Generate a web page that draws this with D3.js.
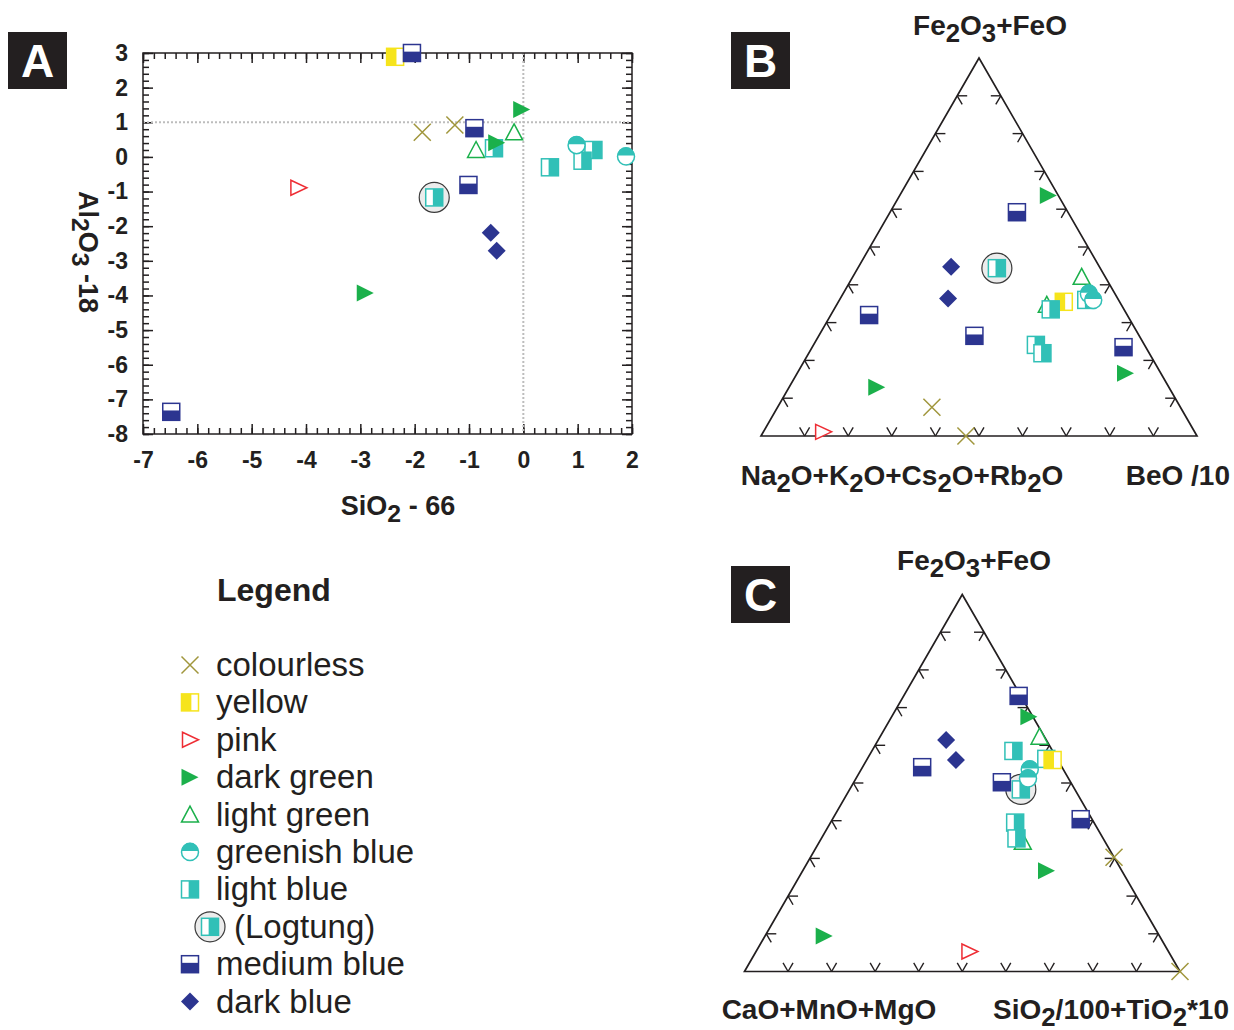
<!DOCTYPE html>
<html>
<head>
<meta charset="utf-8">
<script src="https://cdn.jsdelivr.net/npm/d3@7"></script>
<style>
  body { margin: 0; background: #fff; }
  svg { display: block; font-family: "Liberation Sans", Arial, sans-serif; }
</style>
</head>
<body>
<div id="chart"></div>
<script>
// Categorias (cor da gema)
const categories = ["colourless", "yellow", "pink", "dark green", "light green",
  "greenish blue", "light blue", "(Logtung)", "medium blue", "dark blue"];

// Eixos do painel A
const xTicksA = [-7, -6, -5, -4, -3, -2, -1, 0, 1, 2];
const yTicksA = [-8, -7, -6, -5, -4, -3, -2, -1, 0, 1, 2, 3];

// Painel A: [categoria, SiO2-66, Al2O3-18]
const pointsA = [
  ["yellow", -2.36, 2.89],
  ["medium blue", -2.05, 3.0],
  ["colourless", -1.86, 0.71],
  ["colourless", -1.26, 0.92],
  ["medium blue", -0.90, 0.83],
  ["light green", -0.87, 0.20],
  ["light blue", -0.54, 0.25],
  ["dark green", -0.49, 0.41],
  ["light green", -0.17, 0.71],
  ["dark green", -0.03, 1.37],
  ["light blue", 0.49, -0.30],
  ["light blue", 1.29, 0.20],
  ["light blue", 1.09, -0.11],
  ["greenish blue", 0.98, 0.34],
  ["greenish blue", 1.89, 0.01],
  ["pink", -4.14, -0.89],
  ["(Logtung)", -1.64, -1.17],
  ["medium blue", -1.01, -0.81],
  ["dark blue", -0.60, -2.19],
  ["dark blue", -0.49, -2.71],
  ["dark green", -2.91, -3.93],
  ["medium blue", -6.48, -7.36]
];

// Painel B: [categoria, Fe2O3+FeO, alcalis, BeO/10] (%)
const pointsB = [
  ["pink", 1.1, 85.2, 13.7],
  ["colourless", 7.6, 57.0, 35.4],
  ["colourless", 0, 53.0, 47.0],
  ["dark green", 12.9, 67.0, 20.1],
  ["dark green", 16.6, 8.1, 75.3],
  ["dark green", 63.6, 2.3, 34.1],
  ["medium blue", 59.2, 11.7, 29.1],
  ["medium blue", 32.0, 59.2, 8.8],
  ["medium blue", 26.5, 37.8, 35.7],
  ["medium blue", 23.5, 5.1, 71.4],
  ["dark blue", 44.8, 34.0, 21.2],
  ["dark blue", 36.4, 38.9, 24.7],
  ["(Logtung)", 44.4, 23.7, 31.9],
  ["light green", 42.1, 5.4, 52.5],
  ["yellow", 35.5, 12.8, 51.7],
  ["light green", 34.7, 17.1, 48.2],
  ["light blue", 33.5, 16.8, 49.7],
  ["light blue", 36.0, 7.4, 56.6],
  ["greenish blue", 37.6, 6.0, 56.4],
  ["greenish blue", 36.0, 5.8, 58.2],
  ["light blue", 24.1, 24.9, 51.0],
  ["light blue", 21.9, 24.5, 53.6]
];

// Painel C: [categoria, Fe2O3+FeO, CaO+MnO+MgO, SiO2/100+TiO2*10] (%)
const pointsC = [
  ["colourless", 0, 0, 100],
  ["colourless", 30.3, 0, 69.7],
  ["pink", 5.3, 45.7, 49.0],
  ["dark green", 9.4, 77.0, 13.6],
  ["dark green", 26.7, 17.3, 56.0],
  ["dark green", 67.6, 0.9, 31.5],
  ["medium blue", 73.1, 0.5, 26.4],
  ["light green", 62.3, 1.1, 36.6],
  ["dark blue", 61.4, 23.0, 15.6],
  ["dark blue", 56.1, 23.4, 20.5],
  ["medium blue", 54.2, 32.1, 13.7],
  ["light blue", 58.5, 9.0, 32.5],
  ["light blue", 56.4, 2.5, 41.1],
  ["yellow", 56.1, 1.2, 42.7],
  ["(Logtung)", 48.3, 12.4, 39.3],
  ["greenish blue", 53.6, 7.7, 38.7],
  ["greenish blue", 51.2, 9.3, 39.5],
  ["medium blue", 50.2, 15.8, 34.0],
  ["medium blue", 40.4, 2.6, 57.0],
  ["light green", 34.4, 18.9, 46.7],
  ["light blue", 39.5, 18.1, 42.4],
  ["light blue", 35.3, 19.9, 44.8]
];

// Marcas dos lados dos triângulos (frações)
const ternaryTicks = [0.1, 0.2, 0.3, 0.4, 0.5, 0.6, 0.7, 0.8, 0.9];

// Cores
const col = {
  ink: "#231f20",
  olive: "#a0963c",
  yellow: "#f6e41c",
  pink: "#ee2d34",
  green: "#1bb04b",
  teal: "#31c0b7",
  navy: "#2c3590",
  grey: "#bdbdbd"
};
const markerSize = 17;

const svg = d3.select("#chart").append("svg")
  .attr("width", 1234)
  .attr("height", 1030);

// Desenha um símbolo centrado em (cx, cy)
function drawMarker(parent, cat, cx, cy, s) {
  const h = s / 2;
  const m = parent.append("g").attr("transform", `translate(${cx},${cy})`);
  switch (cat) {
    case "colourless":
      m.append("path")
        .attr("d", `M${-h},${-h}L${h},${h}M${-h},${h}L${h},${-h}`)
        .attr("stroke", col.olive).attr("stroke-width", 1.5).attr("fill", "none");
      break;
    case "yellow":
      m.append("rect").attr("x", -h).attr("y", -h).attr("width", s).attr("height", s)
        .attr("fill", "#fff").attr("stroke", col.yellow).attr("stroke-width", 1.5);
      m.append("rect").attr("x", -h).attr("y", -h).attr("width", s * 0.58).attr("height", s)
        .attr("fill", col.yellow);
      break;
    case "pink":
      m.append("path").attr("d", `M${-h + 1},${-h + 1}L${h},0L${-h + 1},${h - 1}Z`)
        .attr("fill", "#fff").attr("stroke", col.pink).attr("stroke-width", 1.5);
      break;
    case "dark green":
      m.append("path").attr("d", `M${-h},${-h}L${h},0L${-h},${h}Z`)
        .attr("fill", col.green);
      break;
    case "light green":
      m.append("path").attr("d", `M0,${-h}L${h},${h - 1}L${-h},${h - 1}Z`)
        .attr("fill", "#fff").attr("stroke", col.green).attr("stroke-width", 1.5);
      break;
    case "greenish blue": {
      const r = h;
      m.append("circle").attr("r", r).attr("fill", "#fff")
        .attr("stroke", col.teal).attr("stroke-width", 1.5);
      m.append("path").attr("d", `M${-r},-1A${r},${r} 0 0 1 ${r},-1Z`).attr("fill", col.teal);
      break;
    }
    case "light blue":
      m.append("rect").attr("x", -h).attr("y", -h).attr("width", s).attr("height", s)
        .attr("fill", "#fff").attr("stroke", col.teal).attr("stroke-width", 1.5);
      m.append("rect").attr("x", -h + s * 0.42).attr("y", -h).attr("width", s * 0.58).attr("height", s)
        .attr("fill", col.teal);
      break;
    case "(Logtung)":
      m.append("circle").attr("r", 15).attr("fill", "#ececec")
        .attr("stroke", "#3a3a3a").attr("stroke-width", 1.2);
      drawMarker(m, "light blue", 0, 0, s);
      break;
    case "medium blue":
      m.append("rect").attr("x", -h).attr("y", -h).attr("width", s).attr("height", s)
        .attr("fill", "#fff").attr("stroke", col.navy).attr("stroke-width", 1.5);
      m.append("rect").attr("x", -h).attr("y", -h + s * 0.42).attr("width", s).attr("height", s * 0.58)
        .attr("fill", col.navy);
      break;
    case "dark blue":
      m.append("path").attr("d", `M0,${-h - 0.5}L${h + 0.5},0L0,${h + 0.5}L${-h - 0.5},0Z`)
        .attr("fill", col.navy);
      break;
  }
}

// Texto em negrito com subscritos marcados por "_"
function richText(parent, str, x, y, size, anchor) {
  const t = parent.append("text")
    .attr("x", x).attr("y", y)
    .attr("font-size", size).attr("font-weight", "bold")
    .attr("text-anchor", anchor).attr("fill", col.ink);
  const shift = size * 0.26;
  let down = false;
  str.split(/(_\d)/).forEach(p => {
    if (!p) return;
    if (p[0] === "_") {
      t.append("tspan").attr("dy", down ? 0 : shift).attr("font-size", size * 0.92).text(p.slice(1));
      down = true;
    } else {
      t.append("tspan").attr("dy", down ? -shift : 0).text(p);
      down = false;
    }
  });
  return t;
}

// Caixa preta com a letra do painel
function panelLabel(letter, x, y) {
  svg.append("rect").attr("x", x).attr("y", y).attr("width", 59).attr("height", 57).attr("fill", col.ink);
  svg.append("text").attr("x", x + 29.5).attr("y", y + 45)
    .attr("text-anchor", "middle").attr("font-size", 46).attr("font-weight", "bold")
    .attr("fill", "#fff").text(letter);
}

// ---------------- Painel A ----------------
const frameA = { left: 143, right: 632, top: 53, bottom: 434 };
const xA = d3.scaleLinear().domain([-7, 2]).range([frameA.left, frameA.right]);
const yA = d3.scaleLinear().domain([-8, 3]).range([frameA.bottom, frameA.top]);
const gA = svg.append("g");

const minorX = d3.range(-35, 11).map(d => d / 5);
const minorY = d3.range(-40, 16).map(d => d / 5);

function styleAxis(sel) {
  sel.select(".domain").remove();
  sel.selectAll(".tick line").attr("stroke", col.ink).attr("stroke-width", 1.5);
  sel.selectAll(".tick text")
    .attr("fill", col.ink).attr("font-size", 23).attr("font-weight", "bold")
    .attr("font-family", "Liberation Sans, Arial, sans-serif");
}

// Marcas menores (nos quatro lados, para dentro)
gA.append("g").attr("transform", `translate(0,${frameA.bottom})`)
  .call(d3.axisBottom(xA).tickValues(minorX).tickSize(-6).tickFormat("")).call(styleAxis);
gA.append("g").attr("transform", `translate(0,${frameA.top})`)
  .call(d3.axisTop(xA).tickValues(minorX).tickSize(-6).tickFormat("")).call(styleAxis);
gA.append("g").attr("transform", `translate(${frameA.left},0)`)
  .call(d3.axisLeft(yA).tickValues(minorY).tickSize(-6).tickFormat("")).call(styleAxis);
gA.append("g").attr("transform", `translate(${frameA.right},0)`)
  .call(d3.axisRight(yA).tickValues(minorY).tickSize(-6).tickFormat("")).call(styleAxis);

// Marcas maiores e rótulos
gA.append("g").attr("transform", `translate(0,${frameA.bottom})`)
  .call(d3.axisBottom(xA).tickValues(xTicksA).tickSize(-10).tickPadding(18).tickFormat(d => String(d)))
  .call(styleAxis);
gA.append("g").attr("transform", `translate(0,${frameA.top})`)
  .call(d3.axisTop(xA).tickValues(xTicksA).tickSize(-10).tickFormat("")).call(styleAxis);
gA.append("g").attr("transform", `translate(${frameA.left},0)`)
  .call(d3.axisLeft(yA).tickValues(yTicksA).tickSize(-10).tickPadding(15).tickFormat(d => String(d)))
  .call(styleAxis);
gA.append("g").attr("transform", `translate(${frameA.right},0)`)
  .call(d3.axisRight(yA).tickValues(yTicksA).tickSize(-10).tickFormat("")).call(styleAxis);

// Linhas de referência pontilhadas
gA.append("line")
  .attr("x1", xA(0)).attr("x2", xA(0)).attr("y1", yA(3)).attr("y2", yA(-8))
  .attr("stroke", col.grey).attr("stroke-width", 2).attr("stroke-dasharray", "2,2");
gA.append("line")
  .attr("x1", xA(-7)).attr("x2", xA(2)).attr("y1", yA(1)).attr("y2", yA(1))
  .attr("stroke", col.grey).attr("stroke-width", 2).attr("stroke-dasharray", "2,2");

// Moldura
gA.append("rect")
  .attr("x", frameA.left).attr("y", frameA.top)
  .attr("width", frameA.right - frameA.left).attr("height", frameA.bottom - frameA.top)
  .attr("fill", "none").attr("stroke", col.ink).attr("stroke-width", 1.5);

pointsA.forEach(([cat, x, y]) => drawMarker(gA, cat, xA(x), yA(y), markerSize));

richText(gA, "SiO_2 - 66", 398, 515, 27, "middle");
const yTitle = gA.append("g").attr("transform", "translate(79,252) rotate(90)");
richText(yTitle, "Al_2O_3 -18", 0, 0, 27, "middle");

panelLabel("A", 8, 32);

// ---------------- Diagramas ternários ----------------
function ternary(points, box, labels) {
  const g = svg.append("g");
  const x = d3.scaleLinear().domain([0, 1]).range([box.x0, box.x1]);
  const y = d3.scaleLinear().domain([0, 1]).range([box.yb, box.yt]);
  // (topo, esquerda, direita) -> pixels
  const toXY = (t, l, r) => {
    const s = t + l + r;
    const tt = t / s, rr = r / s;
    return [x(rr + tt / 2), y(tt)];
  };

  const A = toXY(1, 0, 0), L = toXY(0, 1, 0), R = toXY(0, 0, 1);
  g.append("path")
    .attr("d", `M${L}L${R}L${A}Z`)
    .attr("fill", "none").attr("stroke", col.ink).attr("stroke-width", 1.7)
    .attr("stroke-linejoin", "miter");

  const len = 10, c = Math.sqrt(3) / 2;
  const sides = [
    { at: f => toXY(0, 1 - f, f), dirs: [[0.5, -c], [-0.5, -c]] },
    { at: f => toXY(f, 1 - f, 0), dirs: [[1, 0], [0.5, c]] },
    { at: f => toXY(f, 0, 1 - f), dirs: [[-1, 0], [-0.5, c]] }
  ];
  sides.forEach(side => {
    ternaryTicks.forEach(f => {
      const [px, py] = side.at(f);
      side.dirs.forEach(([dx, dy]) => {
        g.append("line")
          .attr("x1", px).attr("y1", py)
          .attr("x2", px + dx * len).attr("y2", py + dy * len)
          .attr("stroke", col.ink).attr("stroke-width", 1.4);
      });
    });
  });

  points.forEach(([cat, t, l, r]) => {
    const [px, py] = toXY(t, l, r);
    drawMarker(g, cat, px, py, markerSize);
  });

  labels.forEach(lb => richText(g, lb.text, lb.x, lb.y, 28, lb.anchor));
}

ternary(pointsB, { x0: 761, x1: 1197, yb: 436, yt: 58 }, [
  { text: "Fe_2O_3+FeO", x: 990, y: 35, anchor: "middle" },
  { text: "Na_2O+K_2O+Cs_2O+Rb_2O", x: 902, y: 485, anchor: "middle" },
  { text: "BeO /10", x: 1230, y: 485, anchor: "end" }
]);
panelLabel("B", 731, 32);

ternary(pointsC, { x0: 744.5, x1: 1180, yb: 971.5, yt: 594.5 }, [
  { text: "Fe_2O_3+FeO", x: 974, y: 570, anchor: "middle" },
  { text: "CaO+MnO+MgO", x: 829, y: 1019, anchor: "middle" },
  { text: "SiO_2/100+TiO_2*10", x: 1229, y: 1019, anchor: "end" }
]);
panelLabel("C", 731, 566);

// ---------------- Legenda ----------------
const gL = svg.append("g");
gL.append("text").attr("x", 217).attr("y", 601)
  .attr("font-size", 32).attr("font-weight", "bold").attr("fill", col.ink).text("Legend");

categories.forEach((cat, i) => {
  const cy = 665 + i * 37.4;
  const isLog = cat === "(Logtung)";
  drawMarker(gL, cat, isLog ? 210 : 190, cy, markerSize);
  gL.append("text")
    .attr("x", isLog ? 234 : 216).attr("y", cy + 11)
    .attr("font-size", 33).attr("fill", col.ink).text(cat);
});
</script>
</body>
</html>
